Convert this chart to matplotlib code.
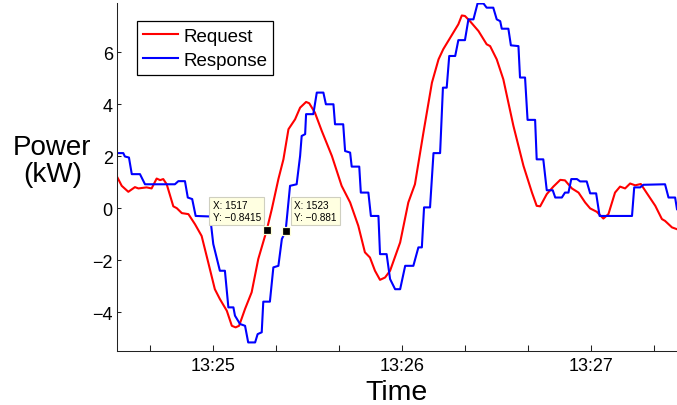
import matplotlib
matplotlib.use("Agg")
import matplotlib.pyplot as plt

plt.rcParams['font.family'] = ['Liberation Sans', 'DejaVu Sans']

# x = sample index (1 sample / s), 1500 = 13:25:00
req_idx = [1469.3, 1470.9, 1473.0, 1475.1, 1476.2, 1478.8, 1480.4, 1482.0, 1483.1, 1484.1,
           1485.2, 1487.3, 1488.4, 1490.0, 1492.1, 1494.2, 1496.3, 1498.4, 1500.5, 1502.1,
           1504.3, 1505.9, 1507.1, 1508.2, 1510.1, 1512.2, 1514.3, 1517.0, 1518.6, 1520.7,
           1522.3, 1523.9, 1526.0, 1527.6, 1529.5, 1530.5, 1532.3, 1534.5, 1537.7, 1540.8,
           1543.5, 1546.1, 1548.2, 1549.8, 1551.4, 1553.0, 1554.6, 1556.2, 1559.4, 1562.0,
           1564.1, 1566.8, 1569.5, 1571.6, 1573.1, 1576.3, 1577.9, 1579.0, 1580.0, 1581.6,
           1584.3, 1586.9, 1588.0, 1590.1, 1592.2, 1595.4, 1598.6, 1601.3, 1602.8, 1603.9,
           1606.0, 1608.1, 1610.3, 1611.8, 1614.0, 1616.1, 1618.2, 1619.8, 1621.9, 1624.0,
           1625.6, 1627.7, 1629.3, 1630.9, 1632.5, 1634.1, 1635.9, 1637.8, 1640.5, 1642.6,
           1643.6, 1645.8, 1647.4]
req_kw = [1.24, 0.86, 0.63, 0.81, 0.76, 0.80, 0.76, 1.14, 1.08, 1.12,
          0.92, 0.07, 0.0, -0.19, -0.23, -0.62, -1.07, -2.09, -3.12, -3.50,
          -3.95, -4.53, -4.59, -4.53, -3.88, -3.24, -1.96, -0.8415, -0.04, 1.12,
          1.88, 3.04, 3.42, 3.87, 4.09, 4.04, 3.68, 2.97, 2.01, 0.86,
          0.22, -0.68, -1.70, -1.90, -2.41, -2.76, -2.67, -2.41, -1.32, 0.22,
          0.92, 2.91, 4.83, 5.73, 6.12, 6.76, 7.08, 7.42, 7.40, 7.20,
          6.82, 6.31, 6.24, 5.73, 4.96, 3.17, 1.63, 0.60, 0.09, 0.07,
          0.54, 0.83, 1.09, 1.07, 0.76, 0.60, 0.22, -0.01, -0.14, -0.40,
          -0.23, 0.60, 0.83, 0.76, 0.95, 0.88, 0.93, 0.58, 0.09, -0.42,
          -0.49, -0.74, -0.81]

resp_idx = [1469.3, 1471.4, 1471.9, 1473.2, 1474.1, 1476.7, 1478.3, 1487.8, 1488.9, 1491.0,
            1491.9, 1493.3, 1494.4, 1499.0, 1500.0, 1502.1, 1503.7, 1504.8, 1506.4, 1506.9,
            1508.5, 1510.1, 1511.1, 1513.3, 1514.1, 1515.4, 1515.9, 1518.0, 1519.1, 1520.7,
            1521.8, 1523.0, 1524.4, 1526.5, 1527.6, 1528.1, 1529.2, 1529.5, 1531.8, 1532.9,
            1535.0, 1535.8, 1538.2, 1538.7, 1541.3, 1541.9, 1543.5, 1544.0, 1546.4, 1546.9,
            1549.3, 1550.1, 1552.5, 1553.0, 1555.1, 1556.2, 1557.8, 1559.4, 1561.0, 1563.6,
            1565.2, 1566.3, 1567.0, 1568.9, 1570.0, 1572.1, 1573.0, 1574.2, 1575.0, 1576.9,
            1577.9, 1580.0, 1581.1, 1582.7, 1584.0, 1585.9, 1586.9, 1589.0, 1590.1, 1591.2,
            1591.7, 1593.8, 1594.6, 1597.0, 1597.5, 1599.1, 1599.9, 1602.3, 1602.8, 1604.9,
            1606.0, 1607.9, 1608.7, 1610.8, 1611.8, 1612.9, 1613.8, 1615.6, 1616.6, 1618.7,
            1619.8, 1621.7, 1622.8, 1633.1, 1633.8, 1635.7, 1636.7, 1643.6, 1644.7, 1646.8,
            1647.4]
resp_kw = [2.12, 2.12, 1.99, 1.95, 1.31, 1.31, 0.92, 0.92, 1.04, 1.04,
           0.41, 0.35, -0.30, -0.32, -1.38, -2.41, -2.41, -3.82, -3.82, -4.14,
           -4.46, -4.53, -5.17, -5.17, -4.85, -4.78, -3.60, -3.60, -2.28, -2.22,
           -1.19, -0.881, 0.86, 0.92, 2.01, 2.78, 2.85, 3.62, 3.62, 4.45,
           4.45, 4.00, 4.00, 3.23, 3.23, 2.20, 2.14, 1.60, 1.60, 0.60,
           0.60, -0.30, -0.30, -1.77, -1.77, -2.73, -3.12, -3.12, -2.22, -2.22,
           -1.51, -1.51, 0.03, 0.03, 2.12, 2.12, 4.64, 4.64, 5.86, 5.86,
           6.47, 6.47, 7.27, 7.27, 7.88, 7.88, 7.72, 7.72, 7.27, 7.20,
           6.91, 6.91, 6.27, 6.24, 5.03, 5.03, 3.40, 3.40, 1.88, 1.88,
           0.69, 0.69, 0.41, 0.41, 0.60, 0.60, 1.12, 1.12, 1.03, 1.03,
           0.57, 0.57, -0.30, -0.30, 0.80, 0.80, 0.90, 0.92, 0.41, 0.41,
           -0.04]

xticks = [1480, 1500, 1520, 1540, 1560, 1580, 1600, 1620, 1640]
xlabels = ['', '13:25', '', '', '13:26', '', '', '13:27', '']
yticks = [-4, -2, 0, 2, 4, 6]

# data cursors: (x, y, text offset in pixels, alignment)
tips = [(1517, -0.8415, (-6, 8.5), 'right'),
        (1523, -0.881, (8.5, 9.5), 'left')]

fig = plt.figure(figsize=(6.77, 4.06), dpi=100)
ax = fig.add_axes([117/677, 1 - 352/406, 560/677, 348/406])

ax.plot(req_idx, req_kw, color='#ff0000', lw=1.5, label='Request')
ax.plot(resp_idx, resp_kw, color='#0000ff', lw=1.5, label='Response')

ax.set_xlim(1469.4, 1647.4)
ax.set_ylim(-5.5, 7.9)
ax.set_xticks(xticks)
ax.set_xticklabels(xlabels)
ax.set_yticks(yticks)

for s in ['top', 'right']:
    ax.spines[s].set_visible(False)
for s in ['left', 'bottom']:
    ax.spines[s].set_linewidth(0.75)
    ax.spines[s].set_color('#222222')
ax.tick_params(axis='x', direction='in', length=4.1, width=0.75, pad=4.5, labelsize=13, colors='#222222')
ax.tick_params(axis='y', direction='in', length=3.1, width=0.75, pad=3, labelsize=13, colors='#222222')
for lab in ax.get_xticklabels() + ax.get_yticklabels():
    lab.set_color('black')

ax.set_xlabel('Time', fontsize=20.5)
ax.xaxis.label.set_va('baseline')
ax.xaxis.set_label_coords(0.5, -0.1377)
ax.set_ylabel('Power\n(kW)', fontsize=20, rotation=0, ha='center', va='center', linespacing=1.05)
ax.yaxis.set_label_coords(-0.1152, 0.548)

leg = ax.legend(loc='upper left', bbox_to_anchor=(0.0352, 0.947), borderaxespad=0,
                fontsize=13.5, fancybox=False, framealpha=1, edgecolor='black',
                handlelength=1.85, handletextpad=0.3, borderpad=0.33, labelspacing=0.36)
leg.get_frame().set_linewidth(0.9)

for x, y, off, ha in tips:
    ax.plot([x], [y], marker='s', ms=5.5, mfc='black', mec='#ffffd8', mew=0.9, ls='none')
    ax.annotate('X: %d\nY: %s' % (x, ('%g' % y).replace('-', '\u2212')),
                xy=(x, y), xytext=off, textcoords='offset pixels',
                ha=ha, va='bottom', multialignment='left', fontsize=7.2, linespacing=1.15,
                bbox=dict(boxstyle='square,pad=0.35', fc='#ffffe1', ec='#cfcfc0', lw=0.8))

fig.savefig('out.png', dpi=100)
